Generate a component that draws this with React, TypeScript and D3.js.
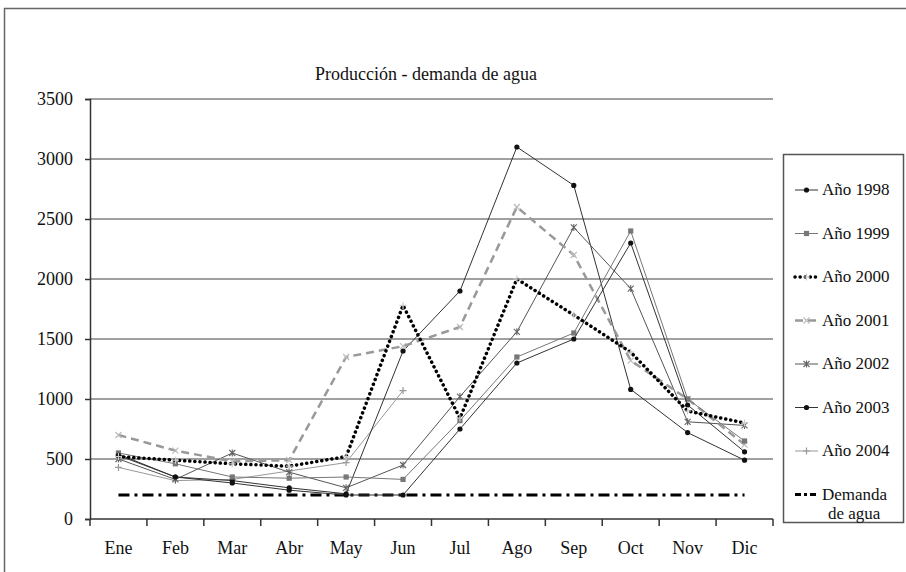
import React, { useEffect, useRef } from 'react';
import * as d3 from 'd3';

const months = ['Ene', 'Feb', 'Mar', 'Abr', 'May', 'Jun', 'Jul', 'Ago', 'Sep', 'Oct', 'Nov', 'Dic'];
const yTicks = [0, 500, 1000, 1500, 2000, 2500, 3000, 3500];

const y1998 = [530, 350, 300, 240, 200, 200, 750, 1300, 1500, 2300, 950, 560];
const y1999 = [550, 460, 350, 340, 350, 330, 820, 1350, 1550, 2400, 1000, 650];
const y2000 = [520, 490, 460, 440, 520, 1780, 840, 2000, 1700, 1390, 900, 800];
const y2001 = [700, 570, 480, 490, 1350, 1440, 1600, 2600, 2200, 1320, 1000, 620];
const y2002 = [500, 330, 550, 390, 260, 450, 1020, 1560, 2430, 1920, 810, 780];
const y2003 = [540, 350, 320, 260, 210, 1400, 1900, 3100, 2780, 1080, 720, 490];
const y2004 = [430, 320, 330, 400, 470, 1070];
const demanda = [200, 200, 200, 200, 200, 200, 200, 200, 200, 200, 200, 200];

type Serie = {
  name: string[];
  values: number[];
  color: string;
  width: number;
  dash: string | null;
  cap: string;
  marker: string;
  markerColor: string;
};

const series: Serie[] = [
  { name: ['Año 1998'], values: y1998, color: '#333', width: 1, dash: null, cap: 'butt', marker: 'circle', markerColor: '#111' },
  { name: ['Año 1999'], values: y1999, color: '#777', width: 1, dash: null, cap: 'butt', marker: 'square', markerColor: '#777' },
  { name: ['Año 2000'], values: y2000, color: '#000', width: 3.5, dash: '0.1,5', cap: 'round', marker: 'plus', markerColor: '#ccc' },
  { name: ['Año 2001'], values: y2001, color: '#999', width: 2.5, dash: '8,5', cap: 'butt', marker: 'x', markerColor: '#bbb' },
  { name: ['Año 2002'], values: y2002, color: '#555', width: 1, dash: null, cap: 'butt', marker: 'star', markerColor: '#666' },
  { name: ['Año 2003'], values: y2003, color: '#333', width: 1, dash: null, cap: 'butt', marker: 'circle', markerColor: '#111' },
  { name: ['Año 2004'], values: y2004, color: '#999', width: 1, dash: null, cap: 'butt', marker: 'plus', markerColor: '#999' },
  { name: ['Demanda', 'de agua'], values: demanda, color: '#000', width: 3, dash: '11,5,3,5', cap: 'butt', marker: 'none', markerColor: '#000' },
];

const drawMarker = (g: any, kind: string, cx: number, cy: number, color: string) => {
  if (kind === 'circle') {
    g.append('circle').attr('cx', cx).attr('cy', cy).attr('r', 2.6).attr('fill', color);
  } else if (kind === 'square') {
    g.append('rect').attr('x', cx - 2.6).attr('y', cy - 2.6).attr('width', 5.2).attr('height', 5.2).attr('fill', color);
  } else if (kind === 'plus') {
    g.append('path').attr('d', `M${cx - 3.5},${cy}H${cx + 3.5}M${cx},${cy - 3.5}V${cy + 3.5}`)
      .attr('stroke', color).attr('stroke-width', 1.2);
  } else if (kind === 'x') {
    g.append('path').attr('d', `M${cx - 3},${cy - 3}L${cx + 3},${cy + 3}M${cx - 3},${cy + 3}L${cx + 3},${cy - 3}`)
      .attr('stroke', color).attr('stroke-width', 1.2);
  } else if (kind === 'star') {
    g.append('path').attr('d', `M${cx - 3},${cy - 3}L${cx + 3},${cy + 3}M${cx - 3},${cy + 3}L${cx + 3},${cy - 3}M${cx},${cy - 3.5}V${cy + 3.5}`)
      .attr('stroke', color).attr('stroke-width', 1.1);
  }
};

const App = () => {
  const ref = useRef<SVGSVGElement | null>(null);

  useEffect(() => {
    const svg = d3.select(ref.current);
    svg.selectAll('*').remove();

    const font = '"Liberation Serif", "Times New Roman", serif';
    const left = 90, right = 773, top = 99, bottom = 519;

    const x = d3.scaleBand().domain(months).range([left, right]).padding(0);
    const cx = (i: number) => (x(months[i]) as number) + x.bandwidth() / 2;
    const y = d3.scaleLinear().domain([0, 3500]).range([bottom, top]);

    // outer frame
    svg.append('rect').attr('x', 4.5).attr('y', 8.5).attr('width', 920).attr('height', 600)
      .attr('fill', 'none').attr('stroke', '#666').attr('stroke-width', 1.5);

    svg.append('text').attr('x', 426).attr('y', 80).attr('text-anchor', 'middle')
      .style('font-family', font).style('font-size', '18px').attr('fill', '#111')
      .text('Producción - demanda de agua');

    // grid
    svg.append('g').selectAll('line').data(yTicks.filter(d => d > 0)).enter().append('line')
      .attr('x1', left).attr('x2', right).attr('y1', d => y(d)).attr('y2', d => y(d))
      .attr('stroke', '#808080').attr('stroke-width', 1.6);

    // y axis
    const ya = svg.append('g').attr('transform', `translate(${left},0)`)
      .call(d3.axisLeft(y).tickValues(yTicks).tickSize(5).tickPadding(12).tickFormat(d3.format('d')));
    ya.select('.domain').attr('stroke', '#333').attr('stroke-width', 1.5);
    ya.selectAll('.tick line').attr('stroke', '#333').attr('stroke-width', 1.5);
    ya.selectAll('.tick text').style('font-family', font).style('font-size', '18px').attr('fill', '#111');

    // x axis
    svg.append('line').attr('x1', left).attr('x2', right).attr('y1', bottom).attr('y2', bottom)
      .attr('stroke', '#333').attr('stroke-width', 1.5);
    const bounds = months.map(m => x(m) as number).concat([right]);
    svg.append('g').selectAll('line').data(bounds).enter().append('line')
      .attr('x1', d => d).attr('x2', d => d).attr('y1', bottom).attr('y2', bottom + 7)
      .attr('stroke', '#333').attr('stroke-width', 1.5);
    svg.append('g').selectAll('text').data(months).enter().append('text')
      .attr('x', (d, i) => cx(i)).attr('y', 554).attr('text-anchor', 'middle')
      .style('font-family', font).style('font-size', '18px').attr('fill', '#111')
      .text(d => d);

    // series, demand first so it stays under the others
    const order = [7, 6, 5, 4, 3, 1, 0, 2];
    order.forEach(k => {
      const s = series[k];
      const line = d3.line<number>().x((d, i) => cx(i)).y(d => y(d));
      const g = svg.append('g');
      const p = g.append('path').datum(s.values).attr('d', line).attr('fill', 'none')
        .attr('stroke', s.color).attr('stroke-width', s.width).attr('stroke-linecap', s.cap);
      if (s.dash) p.attr('stroke-dasharray', s.dash);
      s.values.forEach((v, i) => drawMarker(g, s.marker, cx(i), y(v), s.markerColor));
    });

    // legend
    const lg = svg.append('g');
    lg.append('rect').attr('x', 783.5).attr('y', 154.5).attr('width', 120).attr('height', 368)
      .attr('fill', '#fff').attr('stroke', '#555').attr('stroke-width', 1.5);
    series.forEach((s, i) => {
      const ly = 190 + i * 43.5;
      const ln = lg.append('line').attr('x1', 795).attr('x2', 818).attr('y1', ly).attr('y2', ly)
        .attr('stroke', s.color).attr('stroke-width', s.width).attr('stroke-linecap', s.cap);
      if (s.dash) ln.attr('stroke-dasharray', s.dash === '11,5,3,5' ? '6,3,3,3' : s.dash);
      drawMarker(lg, s.marker, 806.5, ly, s.markerColor);
      s.name.forEach((t, j) => {
        lg.append('text').attr('x', 822 + j * 6).attr('y', ly + 5 + j * 19)
          .style('font-family', font).style('font-size', '17px').attr('fill', '#111').text(t);
      });
    });
  }, []);

  return (
    <svg ref={ref} width={906} height={572}
      style={{ position: 'absolute', left: 0, top: 0, background: '#fff' }} />
  );
};

export default App;
